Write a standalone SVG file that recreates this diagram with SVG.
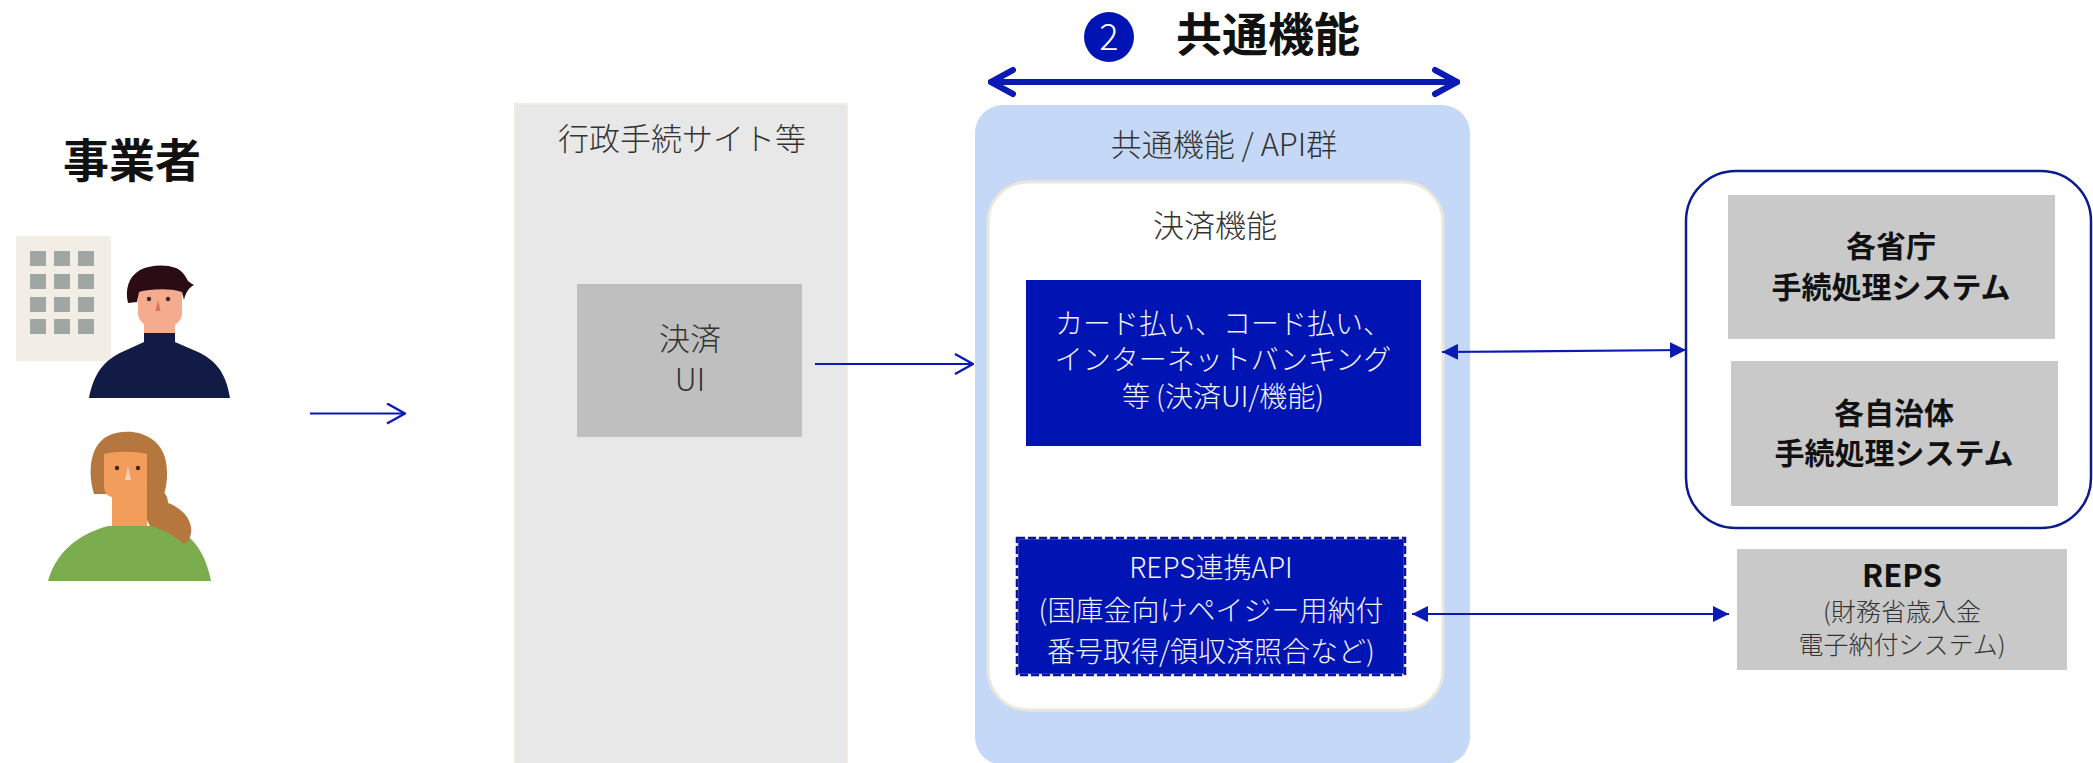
<svg xmlns="http://www.w3.org/2000/svg" width="2093" height="763" viewBox="0 0 2093 763">
  <style>
    text { font-family: "Noto Sans CJK JP", "Noto Sans", sans-serif; }
    .lbl { font-size: 31px; font-weight: 300; fill: #333333; text-anchor: middle; }
    .wht { font-size: 28px; font-weight: 300; fill: #F2F2FA; text-anchor: middle; }
    .bold { font-weight: 700; fill: #111111; text-anchor: middle; }
    .sub { font-size: 25px; font-weight: 300; fill: #333333; text-anchor: middle; }
    .navy { fill: #0014B4; }
    .sys { fill: #C9C9C9; }
    .conn { stroke: #0A1AB4; stroke-width: 2.2; fill: none; }
  </style>
  <defs>
    <marker id="chev" viewBox="0 0 20 22" refX="19" refY="11" markerWidth="20" markerHeight="22" markerUnits="userSpaceOnUse" orient="auto-start-reverse">
      <path d="M1,1 L19,11 L1,21" fill="none" stroke="#0A1AB4" stroke-width="2.4"/>
    </marker>
    <marker id="tri" viewBox="0 0 16 16" refX="16" refY="8" markerWidth="16" markerHeight="16" markerUnits="userSpaceOnUse" orient="auto-start-reverse">
      <path d="M0,0 L16,8 L0,16 Z" fill="#0A1AB4"/>
    </marker>
  </defs>

  <rect width="2093" height="763" fill="#FFFFFF"/>

  <!-- title -->
  <g id="title">
    <circle cx="1109" cy="37" r="25" class="navy"/>
    <text x="1109" y="50" font-size="36" font-weight="300" fill="#FFFFFF" text-anchor="middle">2</text>
    <text x="1268" y="51" class="bold" font-size="46">共通機能</text>
  </g>

  <!-- business operator -->
  <g id="operator">
    <text x="132" y="177" class="bold" font-size="46">事業者</text>
    <rect x="16" y="236" width="95" height="125" rx="2" fill="#F2EEE6"/>
    <g fill="#9FA6A3">
      <rect x="30" y="251" width="16" height="15"/><rect x="54" y="251" width="16" height="15"/><rect x="78" y="251" width="16" height="15"/>
      <rect x="30" y="274" width="16" height="15"/><rect x="54" y="274" width="16" height="15"/><rect x="78" y="274" width="16" height="15"/>
      <rect x="30" y="297" width="16" height="15"/><rect x="54" y="297" width="16" height="15"/><rect x="78" y="297" width="16" height="15"/>
      <rect x="30" y="319" width="16" height="15"/><rect x="54" y="319" width="16" height="15"/><rect x="78" y="319" width="16" height="15"/>
    </g>
    <!-- man -->
    <rect x="144" y="315" width="31" height="22" fill="#F5AB8E"/>
    <rect x="138" y="276" width="44" height="50" rx="13" fill="#F5AB8E"/>
    <path d="M128,303 C125,290 128,277 140,270 C150,265 165,264 176,268 C183,271 186,277 188,281 C190,283 193,284 194,285 C190,287 186,291 184,300 L182,292 C170,288 150,289 139,292 L137,302 Z" fill="#2B0B14"/>
    <circle cx="149" cy="299" r="2.2" fill="#3A2A2A"/>
    <circle cx="168" cy="299" r="2.2" fill="#3A2A2A"/>
    <path d="M158,300 L155.5,311 L160.5,311 Z" fill="#D4735E"/>
    <path d="M89,398 C94,372 105,360 122,352 L144,342 L144,333 L175,333 L175,342 L198,352 C215,360 226,372 230,398 Z" fill="#121B46"/>
    <!-- woman -->
    <path d="M94,494 C86,466 92,438 116,433 C137,428 162,437 166,462 C168,474 167,485 164,494 Z" fill="#B5773D"/>
    <path d="M104,454 C115,451 136,451 147,454 L147,527 L112,527 L112,497 C107,496 104,492 104,486 Z" fill="#F29D5C"/>
    <circle cx="117" cy="468" r="2.2" fill="#3A2A22"/>
    <circle cx="138" cy="468" r="2.2" fill="#3A2A22"/>
    <path d="M128,466 L125,480 L131,480 Z" fill="#F7CDBE"/>
    <path d="M48,581 C55,555 75,535 108,526 L170,526 C195,535 206,556 211,581 Z" fill="#7BAC4D"/>
    <path d="M147,488 C158,486 168,492 168,503 C182,508 193,520 191,533 C190,540 186,544 184,544 C175,535 160,528 150,526 L147,520 Z" fill="#B5773D"/>
  </g>

  <!-- procedure sites -->
  <g id="site">
    <rect x="515" y="104" width="332" height="680" fill="#E8E8E8" stroke="#F1ECE1" stroke-width="2"/>
    <text x="682" y="150" class="lbl">行政手続サイト等</text>
  </g>
  <g id="pay-ui">
    <rect x="577" y="284" width="225" height="153" fill="#BFBFBF"/>
    <text x="690" y="350" class="lbl" font-size="29">決済</text>
    <text x="690" y="391" class="lbl" font-size="29">UI</text>
  </g>

  <!-- common functions / API group -->
  <g id="common">
    <rect x="975" y="105" width="495" height="660" rx="28" fill="#C5D8F8"/>
    <text x="1224" y="156" class="lbl">共通機能 / API群</text>
  </g>
  <g id="payment">
    <rect x="988" y="182" width="455" height="528" rx="40" fill="#FFFFFF" stroke="#ECE7DB" stroke-width="3"/>
    <text x="1215" y="237" class="lbl">決済機能</text>
  </g>
  <g id="pay-methods">
    <rect x="1026" y="280" width="395" height="166" class="navy"/>
    <text x="1223" y="334" class="wht">カード払い、コード払い、</text>
    <text x="1223" y="370" class="wht">インターネットバンキング</text>
    <text x="1223" y="407" class="wht">等 (決済UI/機能)</text>
  </g>
  <g id="reps-api">
    <rect x="1017" y="538" width="388" height="137" class="navy" stroke="#ECE7DB" stroke-width="2.5"/>
    <rect x="1017" y="538" width="388" height="137" fill="none" stroke="#0A1598" stroke-width="2.5" stroke-dasharray="8 3"/>
    <text x="1211" y="578" class="wht" font-size="30">REPS連携API</text>
    <text x="1211" y="621" class="wht">(国庫金向けペイジー用納付</text>
    <text x="1211" y="662" class="wht">番号取得/領収済照合など)</text>
  </g>

  <!-- back-office systems -->
  <g id="systems">
    <rect x="1686" y="171" width="405" height="357" rx="50" fill="#FFFFFF" stroke="#0B1C8E" stroke-width="2.5"/>
  </g>
  <g id="ministries">
    <rect x="1728" y="195" width="327" height="144" class="sys"/>
    <text x="1891" y="257" class="bold" font-size="30">各省庁</text>
    <text x="1891" y="298" class="bold" font-size="30">手続処理システム</text>
  </g>
  <g id="municipalities">
    <rect x="1731" y="361" width="327" height="145" class="sys"/>
    <text x="1894" y="424" class="bold" font-size="30">各自治体</text>
    <text x="1894" y="464" class="bold" font-size="30">手続処理システム</text>
  </g>
  <g id="reps">
    <rect x="1737" y="549" width="330" height="121" class="sys"/>
    <text x="1902" y="587" class="bold" font-size="31">REPS</text>
    <text x="1902" y="621" class="sub">(財務省歳入金</text>
    <text x="1902" y="654" class="sub">電子納付システム)</text>
  </g>

  <!-- connectors -->
  <g id="connectors">
    <line x1="991" y1="82" x2="1457" y2="82" stroke="#0A1AB4" stroke-width="6" stroke-linecap="round"/>
    <path d="M1013,70 L991,82 L1013,94 M1435,70 L1457,82 L1435,94" fill="none" stroke="#0A1AB4" stroke-width="6" stroke-linecap="round" stroke-linejoin="round"/>
    <line x1="310" y1="413.5" x2="405" y2="413.5" class="conn" marker-end="url(#chev)"/>
    <line x1="815" y1="364" x2="973" y2="364" class="conn" marker-end="url(#chev)"/>
    <line x1="1442" y1="352" x2="1686" y2="350" class="conn" marker-start="url(#tri)" marker-end="url(#tri)"/>
    <line x1="1412" y1="614" x2="1729" y2="614" class="conn" marker-start="url(#tri)" marker-end="url(#tri)"/>
  </g>
</svg>
